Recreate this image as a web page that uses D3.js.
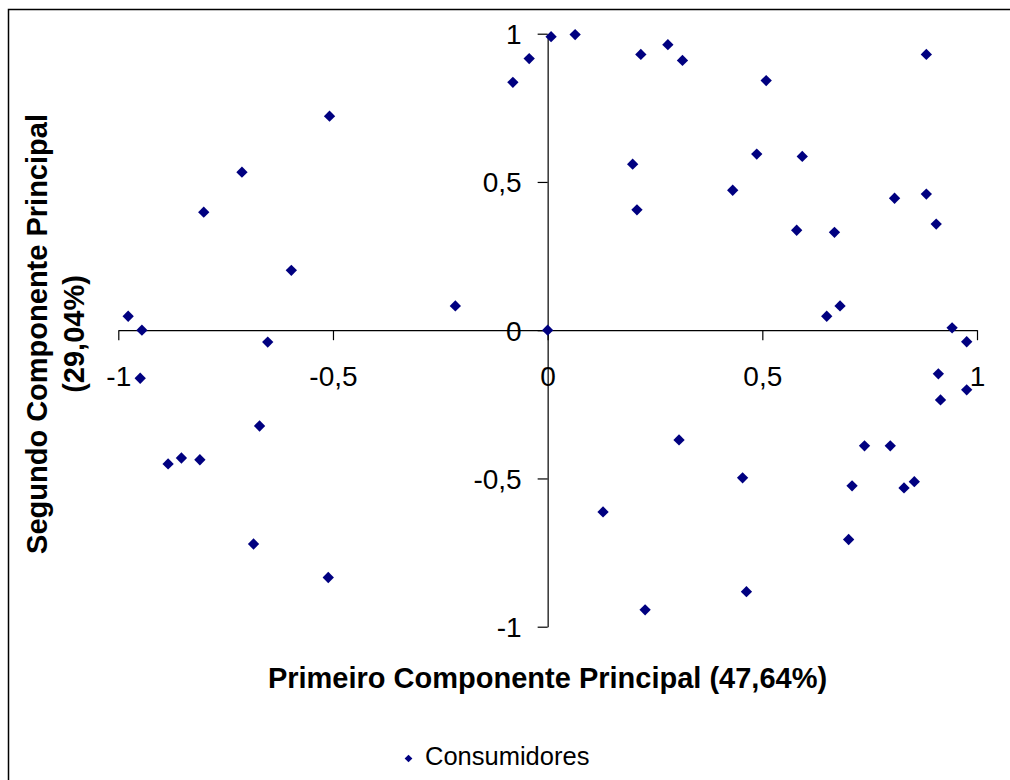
<!DOCTYPE html>
<html>
<head>
<meta charset="utf-8">
<script src="https://cdn.jsdelivr.net/npm/d3@7"></script>
<style>
  body { margin: 0; background: #fff; }
  svg text { font-family: "Liberation Sans", Arial, sans-serif; fill: #000; }
</style>
</head>
<body>
<svg id="chart" width="1010" height="780"></svg>
<script>
// Cargas dos consumidores nos dois primeiros componentes
const pc1 = [
  -0.508, -0.712, -0.801, -0.597, -0.977, -0.945, -0.652, -0.949, -0.671,
  -0.884, -0.853, -0.810, -0.685, -0.511, -0.215, -0.043, -0.081,
  0.008, 0.064, 0.000, 0.217, 0.280, 0.314, 0.509, 0.882, 0.198, 0.208,
  0.487, 0.593, 0.431, 0.808, 0.882, 0.905, 0.580, 0.668, 0.681, 0.650,
  0.942, 0.976, 0.910, 0.976, 0.915, 0.306, 0.738, 0.798, 0.454, 0.709,
  0.830, 0.854, 0.701, 0.463, 0.129, 0.227
];
const pc2 = [
  0.722, 0.533, 0.398, 0.202, 0.047, 0.000, -0.040, -0.162, -0.323,
  -0.451, -0.431, -0.437, -0.721, -0.834, 0.082, 0.916, 0.836,
  0.990, 0.997, 0.000, 0.930, 0.963, 0.910, 0.842, 0.930, 0.560, 0.406,
  0.594, 0.586, 0.472, 0.445, 0.459, 0.358, 0.337, 0.330, 0.082, 0.047,
  0.008, -0.039, -0.147, -0.201, -0.235, -0.370, -0.390, -0.390, -0.498, -0.525,
  -0.532, -0.511, -0.706, -0.882, -0.613, -0.943
];
const xTicks = [-1, -0.5, 0, 0.5, 1];
const yTicks = [-1, -0.5, 0, 0.5, 1];
const seriesName = 'Consumidores';
const xTitle = 'Primeiro Componente Principal (47,64%)';
const yTitle = ['Segundo Componente Principal', '(29,04%)'];

const points = pc1.map((v, i) => ({ x: v, y: pc2[i] }));

const svg = d3.select('#chart');
const fmt = d => String(d).replace('.', ',');

// moldura externa
svg.append('rect')
  .attr('x', 8.5).attr('y', 9.5)
  .attr('width', 1100).attr('height', 900)
  .attr('fill', 'none').attr('stroke', '#000').attr('stroke-width', 1.5);

const x = d3.scaleLinear().domain([-1, 1]).range([118.3, 977]);
const y = d3.scaleLinear().domain([-1, 1]).range([626.7, 33.7]);

// eixo X cruzando em y=0
const gx = svg.append('g')
  .attr('transform', `translate(0,${y(0)})`)
  .call(d3.axisBottom(x).tickValues(xTicks).tickSize(10).tickSizeOuter(0).tickFormat(fmt));
gx.selectAll('text')
  .attr('y', 56).attr('dy', 0)
  .style('font-size', '28px');

// eixo Y cruzando em x=0
const gy = svg.append('g')
  .attr('transform', `translate(${x(0)},0)`)
  .call(d3.axisLeft(y).tickValues(yTicks).tickSize(10).tickSizeOuter(0).tickFormat(fmt));
gy.selectAll('text')
  .attr('x', -26).attr('dy', '0.35em')
  .style('font-size', '28px');

svg.selectAll('.domain, .tick line').attr('stroke', '#000').attr('stroke-width', 1.2);

// pontos
const diamond = d3.symbol().type(d3.symbolSquare).size(64);
svg.selectAll('path.pt')
  .data(points)
  .enter()
  .append('path')
  .attr('class', 'pt')
  .attr('d', diamond)
  .attr('transform', d => `translate(${x(d.x)},${y(d.y)}) rotate(45)`)
  .attr('fill', '#000080');

// títulos
svg.append('text')
  .attr('x', 547.5).attr('y', 688)
  .attr('text-anchor', 'middle')
  .style('font-size', '29px').style('font-weight', 'bold')
  .text(xTitle);

svg.selectAll('text.ytitle')
  .data(yTitle)
  .enter()
  .append('text')
  .attr('class', 'ytitle')
  .attr('text-anchor', 'middle')
  .attr('transform', (d, i) => `translate(${47 + i * 37},334) rotate(-90)`)
  .style('font-size', '29px').style('font-weight', 'bold')
  .text(d => d);

// legenda
svg.append('path')
  .attr('d', d3.symbol().type(d3.symbolSquare).size(30))
  .attr('transform', 'translate(408.5,758.5) rotate(45)')
  .attr('fill', '#000080');
svg.append('text')
  .attr('x', 425).attr('y', 765)
  .style('font-size', '25.5px')
  .text(seriesName);
</script>
</body>
</html>
